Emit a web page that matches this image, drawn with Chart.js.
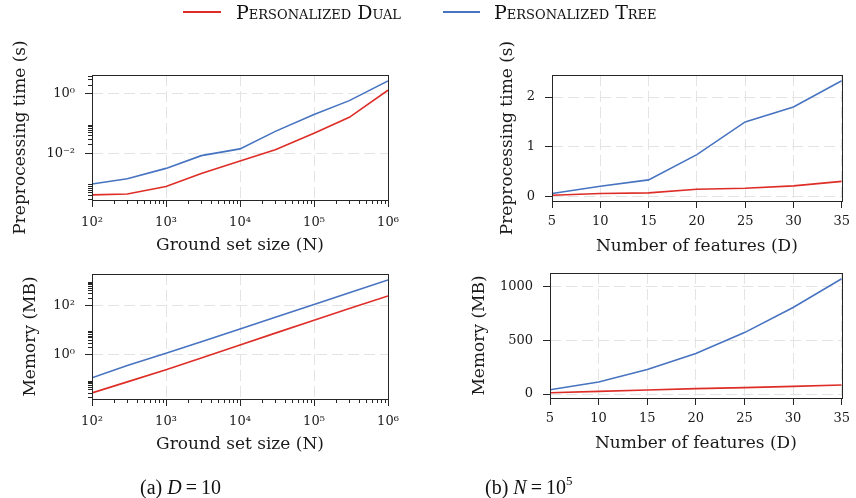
<!DOCTYPE html>
<html><head><meta charset="utf-8">
<script src="https://cdn.jsdelivr.net/npm/chart.js@4.4.1/dist/chart.umd.min.js"></script>
<style>
html,body{margin:0;padding:0;background:#fff;}
#wrap{position:relative;width:856px;height:498px;overflow:hidden;background:#fff;}
canvas{position:absolute;left:0;top:0;}
.leg{position:absolute;top:0px;font-family:"DejaVu Serif";font-size:19px;font-variant:small-caps;color:#111;line-height:24px;white-space:nowrap;}
.sw{position:absolute;top:11px;height:2px;}
.cap{position:absolute;top:476px;font-family:"Liberation Serif";font-size:20px;color:#111;white-space:nowrap;line-height:22px;}
.cap sup{font-size:13px;position:relative;top:-9px;vertical-align:baseline;}
</style></head><body>
<div id="wrap">
<canvas id="c1" width="856" height="498"></canvas>
<canvas id="c2" width="856" height="498"></canvas>
<canvas id="c3" width="856" height="498"></canvas>
<canvas id="c4" width="856" height="498"></canvas>
<div class="sw" style="left:183px;width:38px;background:#de2d26"></div>
<div class="leg" style="left:236px">Personalized Dual</div>
<div class="sw" style="left:443px;width:37px;background:#4773c0"></div>
<div class="leg" style="left:494px">Personalized Tree</div>
<div class="cap" style="left:140px">(a) <i>D</i>&#8201;=&#8201;10</div>
<div class="cap" style="left:485px">(b) <i>N</i>&#8201;=&#8201;10<sup>5</sup></div>
</div>
<script>
// ---- data ----
const seriesNames = ['Personalized Dual', 'Personalized Tree'];
const groundSetSizes = [1e2, 3e2, 1e3, 3e3, 1e4, 3e4, 1e5, 3e5, 1e6];
const timeDualByN = [4.0e-4, 4.3e-4, 7.6e-4, 2.1e-3, 5.5e-3, 0.013, 0.047, 0.16, 1.3];
const timeTreeByN = [9.3e-4, 1.4e-3, 3.1e-3, 8.3e-3, 0.014, 0.054, 0.20, 0.58, 2.65];
const memDualByN = [0.029, 0.081, 0.25, 0.75, 2.5, 7.5, 25, 74, 238];
const memTreeByN = [0.119, 0.37, 1.15, 3.4, 11.1, 33, 108, 319, 1047];
const numFeatures = [5, 10, 15, 20, 25, 30, 35];
const timeDualByD = [0.02, 0.054, 0.068, 0.14, 0.16, 0.21, 0.30];
const timeTreeByD = [0.054, 0.20, 0.33, 0.84, 1.50, 1.80, 2.33];
const memDualByD = [12, 25, 37, 50, 59, 71, 84];
const memTreeByD = [40, 112, 227, 376, 571, 804, 1071];
// tick values
const logXTicks = [1e2, 1e3, 1e4, 1e5, 1e6];
const timeLogYTicks = [1e-2, 1e0];
const memLogYTicks = [1e0, 1e2];
const featureTicks = [5, 10, 15, 20, 25, 30, 35];
const timeLinTicks = [0, 1, 2];
const memLinTicks = [0, 500, 1000];

const RED = '#de2d26', BLUE = '#4773c0';
const FAMILY = '"DejaVu Serif", serif';
const SUP = {'-':'\u207B','0':'\u2070','1':'\u00B9','2':'\u00B2','3':'\u00B3','4':'\u2074','5':'\u2075','6':'\u2076','7':'\u2077','8':'\u2078','9':'\u2079'};
function powLabel(v){ const e = String(Math.round(Math.log10(v))); return '10' + e.split('').map(c=>SUP[c]).join(''); }
function minorLog(decadeExps, lo, hi){ const out=[]; decadeExps.forEach(e=>{ for(let k=2;k<=9;k++){ const v=k*Math.pow(10,e); if(v>=lo && v<=hi) out.push(v);} }); return out; }

const frameAndMinor = {
  id: 'frameAndMinor',
  afterDraw(chart){
    const {ctx, chartArea:{left,top,right,bottom}, scales} = chart;
    const mt = chart.options.plugins.frameAndMinor || {};
    ctx.save();
    ctx.strokeStyle = '#262626'; ctx.lineWidth = 1;
    (mt.x||[]).forEach(v=>{ const p = Math.round(scales.x.getPixelForValue(v))+0.5; if(p>=left-1&&p<=right+1){ ctx.beginPath(); ctx.moveTo(p,bottom); ctx.lineTo(p,bottom+4); ctx.stroke(); }});
    (mt.y||[]).forEach(v=>{ const p = Math.round(scales.y.getPixelForValue(v))+0.5; if(p>=top-1&&p<=bottom+1){ ctx.beginPath(); ctx.moveTo(left-4,p); ctx.lineTo(left,p); ctx.stroke(); }});
    ctx.strokeRect(Math.round(left)+0.5, Math.round(top)+0.5, Math.round(right-left), Math.round(bottom-top));
    ctx.restore();
  }
};

function makeChart(id, cfg){
  const tickFont = {family:FAMILY, size:13};
  const titleFont = {family:FAMILY, size:17};
  const gridCommon = {color:'#e4e4e4', lineWidth:1, tickColor:'#262626', tickLength:7, tickWidth:1};
  return new Chart(document.getElementById(id), {
    type:'line',
    data:{ labels: cfg.x, datasets:[
      {label:seriesNames[0], data: cfg.x.map((x,i)=>({x, y:cfg.dual[i]})), borderColor:RED, borderWidth:1.6, pointRadius:0, fill:false, tension:0},
      {label:seriesNames[1], data: cfg.x.map((x,i)=>({x, y:cfg.tree[i]})), borderColor:BLUE, borderWidth:1.6, pointRadius:0, fill:false, tension:0}
    ]},
    options:{
      responsive:false, animation:false, devicePixelRatio:1, events:[],
      layout:{padding:cfg.pad},
      plugins:{legend:{display:false}, tooltip:{enabled:false}, frameAndMinor:{x:cfg.minorX, y:cfg.minorY}},
      scales:{
        x:{ type:cfg.xType, min:cfg.xMin, max:cfg.xMax,
            afterBuildTicks: s=>{ s.ticks = cfg.xTicks.map(v=>({value:v})); },
            afterFit: s=>{ s.height = 56; },
            ticks:{ font:tickFont, color:'#1a1a1a', padding:cfg.xTickPad, autoSkip:false, maxRotation:0, minRotation:0,
                    callback: v => cfg.xType==='logarithmic' ? powLabel(v) : String(v) },
            grid:gridCommon, border:{display:false, dash:[11,5]},
            title:{display:true, text:cfg.xTitle, font:titleFont, color:'#1a1a1a', padding:{top:0,bottom:0}} },
        y:{ type:cfg.yType, min:cfg.yMin, max:cfg.yMax,
            afterBuildTicks: s=>{ s.ticks = cfg.yTicks.map(v=>({value:v})); },
            afterFit: s=>{ s.width = cfg.yWidth; },
            ticks:{ font:tickFont, color:'#1a1a1a', padding:10,
                    callback: v => cfg.yType==='logarithmic' ? powLabel(v) : String(v) },
            grid:gridCommon, border:{display:false, dash:[11,5]},
            title:{display:true, text:cfg.yTitle, font:titleFont, color:'#1a1a1a', padding:{top:cfg.yTitlePad,bottom:0}} }
      }
    },
    plugins:[frameAndMinor]
  });
}

makeChart('c1', {
  x: groundSetSizes, dual: timeDualByN, tree: timeTreeByN,
  xType:'logarithmic', xMin:1e2, xMax:1e6, xTicks:logXTicks, minorX:minorLog([2,3,4,5],1e2,1e6),
  yType:'logarithmic', yMin:2.7e-4, yMax:4.2, yTicks:timeLogYTicks, minorY:minorLog([-4,-2,0],2.7e-4,4.2),
  xTitle:'Ground set size (N)', yTitle:'Preprocessing time (s)',
  pad:{left:0, top:75, right:468, bottom:242}, yWidth:92, yTitlePad:10, xTickPad:8
});
makeChart('c2', {
  x: numFeatures, dual: timeDualByD, tree: timeTreeByD,
  xType:'linear', xMin:5, xMax:35, xTicks:featureTicks, minorX:[],
  yType:'linear', yMin:-0.096, yMax:2.446, yTicks:timeLinTicks, minorY:[],
  xTitle:'Number of features (D)', yTitle:'Preprocessing time (s)',
  pad:{left:440, top:75, right:9, bottom:241}, yWidth:112, yTitlePad:57, xTickPad:6
});
makeChart('c3', {
  x: groundSetSizes, dual: memDualByN, tree: memTreeByN,
  xType:'logarithmic', xMin:1e2, xMax:1e6, xTicks:logXTicks, minorX:minorLog([2,3,4,5],1e2,1e6),
  yType:'logarithmic', yMin:0.0165, yMax:1820, yTicks:memLogYTicks, minorY:minorLog([-2,0,2],0.0165,1820),
  xTitle:'Ground set size (N)', yTitle:'Memory (MB)',
  pad:{left:0, top:274, right:468, bottom:43}, yWidth:92, yTitlePad:20, xTickPad:8
});
makeChart('c4', {
  x: numFeatures, dual: memDualByD, tree: memTreeByD,
  xType:'linear', xMin:5, xMax:35, xTicks:featureTicks, minorX:[],
  yType:'linear', yMin:-37, yMax:1125, yTicks:memLinTicks, minorY:[],
  xTitle:'Number of features (D)', yTitle:'Memory (MB)',
  pad:{left:440, top:273, right:10, bottom:44}, yWidth:110, yTitlePad:29, xTickPad:6
});
</script>
</body></html>
